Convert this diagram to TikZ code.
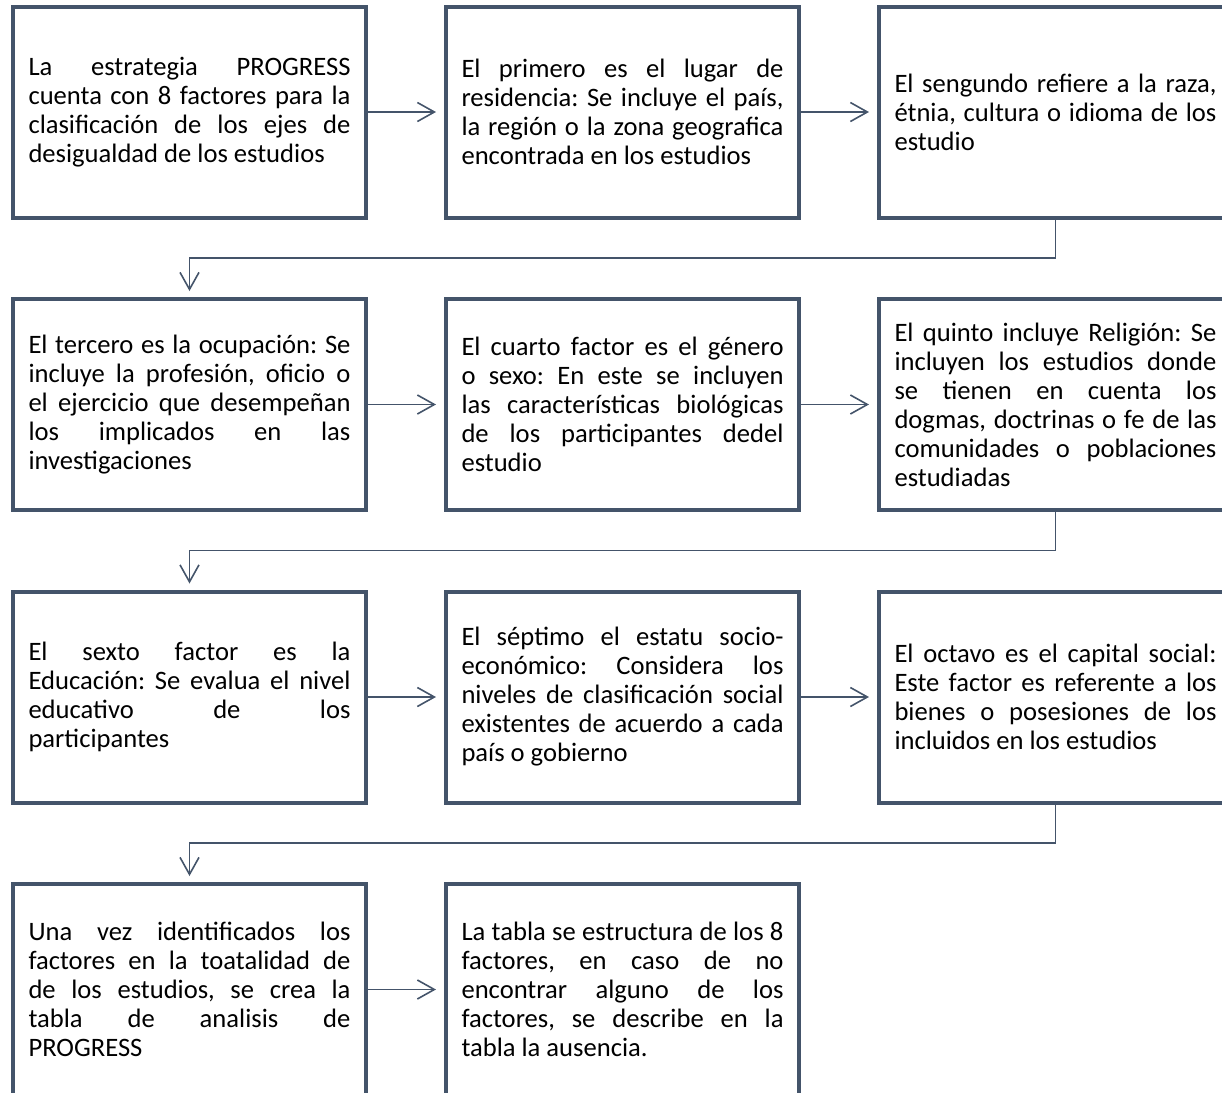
\documentclass[tikz,border=0pt]{standalone}
\usepackage{fontspec}
\setmainfont{Carlito}
\usetikzlibrary{arrows.meta}
\definecolor{slate}{HTML}{44546A}
\frenchspacing
\tikzset{
  factor/.style={draw=slate, line width=2pt, text width=161pt, inner xsep=7.75pt,
    minimum height=105.5pt, align=justify,
    font={\fontsize{13.3pt}{14.5pt}\selectfont\tolerance=10000 \hyphenpenalty=10000 }},
  flow/.style={draw=slate, line width=0.8pt, -{Straight Barb[length=8.5pt,width=9.5pt]}, shorten >=4pt}
}
\begin{document}
\begin{tikzpicture}[x=0.5pt, y=-0.5pt]
    \useasboundingbox (0,0) rectangle (1222,1093);

    \node[factor] (A) at (189.5, 112) {La estrategia PROGRESS\linebreak cuenta con 8 factores para la\linebreak clasificación de los ejes de\linebreak desigualdad de los estudios};
    \node[factor] (B) at (622.5, 112) {El primero es el lugar de\linebreak residencia: Se incluye el país,\linebreak la región o la zona geografica\linebreak encontrada en los estudios};
    \node[factor] (C) at (1055.5, 112) {El sengundo refiere a la raza,\linebreak étnia, cultura o idioma de los\linebreak estudio};

    \node[factor] (D) at (189.5, 404.5) {El tercero es la ocupación: Se\linebreak incluye la profesión, oficio o\linebreak el ejercicio que desempeñan\linebreak los implicados en las\linebreak investigaciones};
    \node[factor] (E) at (622.5, 404.5) {El cuarto factor es el género\linebreak o sexo: En este se incluyen\linebreak las características biológicas\linebreak de los participantes dedel\linebreak estudio};
    \node[factor] (F) at (1055.5, 404.5) {El quinto incluye Religión: Se\linebreak incluyen los estudios donde\linebreak se tienen en cuenta los\linebreak dogmas, doctrinas o fe de las\linebreak comunidades o poblaciones\linebreak estudiadas};

    \node[factor] (G) at (189.5, 697) {El sexto factor es la\linebreak Educación: Se evalua el nivel\linebreak educativo de los\linebreak participantes};
    \node[factor] (H) at (622.5, 697) {El séptimo el estatu socio-\linebreak económico: Considera los\linebreak niveles de clasificación social\linebreak existentes de acuerdo a cada\linebreak país o gobierno};
    \node[factor] (I) at (1055.5, 697) {El octavo es el capital social:\linebreak Este factor es referente a los\linebreak bienes o posesiones de los\linebreak incluidos en los estudios};

    \node[factor] (J) at (189.5, 989.5) {Una vez identificados los\linebreak factores en la toatalidad de\linebreak de los estudios, se crea la\linebreak tabla de analisis de\linebreak PROGRESS};
    \node[factor] (K) at (622.5, 989.5) {La tabla se estructura de los 8\linebreak factores, en caso de no\linebreak encontrar alguno de los\linebreak factores, se describe en la\linebreak tabla la ausencia.};

    \draw[flow] (A) -- (B);
    \draw[flow] (B) -- (C);
    \draw[flow, shorten >=3pt] (C.south) -- ++(0,38.5) -| (D.north);
    \draw[flow] (D) -- (E);
    \draw[flow] (E) -- (F);
    \draw[flow, shorten >=3pt] (F.south) -- ++(0,38.5) -| (G.north);
    \draw[flow] (G) -- (H);
    \draw[flow] (H) -- (I);
    \draw[flow, shorten >=3pt] (I.south) -- ++(0,38.5) -| (J.north);
    \draw[flow] (J) -- (K);
  \end{tikzpicture}
\end{document}
